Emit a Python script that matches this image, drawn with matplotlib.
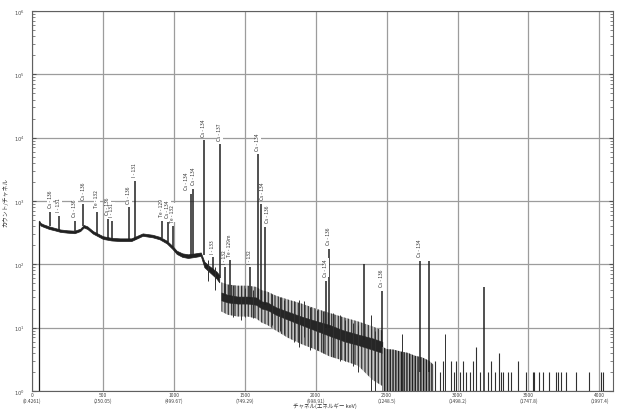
import numpy as np
import matplotlib
matplotlib.use("Agg")
import matplotlib.pyplot as plt
import matplotlib.ticker as ticker

plt.rcParams['font.family'] = ['Noto Sans CJK JP', 'DejaVu Sans']

# continuum envelope below the Cs-137 edge (channel, low / high counts)
cont_ch = [50, 60, 80, 120, 160, 200, 250, 300, 340, 365, 390, 430, 500, 560, 620, 700,
           780, 850, 900, 950, 990, 1020, 1060, 1100, 1150, 1190, 1215, 1250, 1300, 1320]
cont_lo = [450, 410, 392, 362, 344, 325, 316, 310, 335, 382, 362, 305, 252, 238, 233, 233,
           282, 267, 248, 214, 175, 146, 131, 126, 131, 136, 90, 76, 60, 52]
cont_hi = [490, 450, 428, 398, 376, 355, 345, 340, 365, 418, 398, 335, 278, 262, 257, 257,
           308, 293, 272, 236, 195, 164, 149, 144, 149, 154, 110, 94, 77, 68]

# noisy part above the Cs-137 edge: dark core and lighter outer spread
mid_ch = [1335, 1380, 1450, 1520, 1580, 1620, 1660, 1720, 1800, 1900, 2000, 2100, 2200,
          2300, 2400, 2470]
mid_core_lo = [27, 25, 24, 24, 23, 20, 19, 16, 13.5, 11, 9, 7.4, 6.1, 5.3, 4.5, 4]
mid_core_hi = [36, 33, 31, 31, 30, 26, 25, 21, 18, 15, 12.8, 11, 9, 7.8, 6.8, 6]
mid_out_lo = [18, 16, 15, 15, 14, 12, 11, 9, 7, 5.5, 4.5, 3.5, 3, 2.5, 1.5, 1.2]
mid_out_hi = [52, 48, 46, 46, 44, 39, 37, 32, 28, 24, 20, 17, 14.5, 12.5, 10.5, 9]

# dense low-count region (drawn from the floor up)
dense_ch = [2470, 2500, 2550, 2600, 2650, 2700, 2750, 2800, 2830]
dense_hi = [5, 4.6, 4.5, 4.2, 4, 3.6, 3.4, 3, 2.6]

# noise spikes in the falling part of the spectrum
spike_ch = [1240, 1290, 1420, 1470, 1500, 1560, 1690, 1750, 1780, 1850, 1880, 1920, 1960,
            2010, 2050, 2120, 2170, 2210, 2260, 2300, 2390, 2420, 2610, 2910]
spike_lo = [55, 40, 15, 13, 15, 14, 11, 9, 8, 6, 5, 7, 4.5, 4.5, 4, 3.5, 3, 3, 2.5, 2,
            1, 1, 1, 1]
spike_hi = [115, 90, 48, 45, 42, 40, 34, 31, 27, 26, 27, 26, 21, 19, 18, 17, 16, 13, 12,
            11, 16, 9, 8, 8]

# sparse single counts at the high end
tail_ch = [2838, 2873, 2901, 2955, 2972, 2991, 3014, 3038, 3061, 3085, 3108, 3131, 3155,
           3213, 3237, 3261, 3289, 3307, 3324, 3354, 3378, 3425, 3484, 3531, 3542, 3577,
           3601, 3648, 3695, 3707, 3730, 3765, 3836, 3930, 4012, 4028]
tail_cnt = [3, 2, 3, 3, 2, 3, 2, 3, 2, 2, 3, 5, 2, 2, 3, 2, 4, 2, 2, 2, 2, 3, 2, 2, 2, 2,
            2, 2, 2, 2, 2, 2, 2, 2, 2, 2]

# identified peaks
peak_ch = [127, 190, 303, 360, 458, 535, 563, 683, 725, 915, 958, 993, 1120, 1137, 1211,
           1275, 1324, 1359, 1394, 1535, 1592, 1613, 1641, 2070, 2092, 2338, 2465, 2732,
           2796, 3190]
peak_cnt = [670, 580, 490, 900, 670, 520, 490, 800, 2080, 490, 470, 400, 1300, 1550, 9100,
            130, 7900, 90, 115, 90, 5500, 900, 390, 55, 175, 100, 38, 113, 113, 44]
peak_base = [400, 350, 330, 400, 300, 255, 250, 245, 245, 260, 225, 185, 137, 140, 140,
             75, 60, 32, 30, 28, 27, 24, 23, 10, 10, 6.5, 5, 2, 2, 1]
peak_lab = ["Cs - 136", "I - 131", "Cs - 136", "Cs - 136", "Te - 132", "Cs - 136", "I - 131",
            "Cs - 136", "I - 131", "Te - 129", "Cs - 134", "Te - 132", "Cs - 134", "Cs - 134",
            "Cs - 134", "I - 133", "Cs - 137", "I - 132", "Te - 129m", "I - 132", "Cs - 134",
            "Cs - 134", "Cs - 136", "Cs - 134", "Cs - 136", "", "Cs - 136", "Cs - 134", "", ""]

xticks = [0, 500, 1000, 1500, 2000, 2500, 3000, 3500, 4000]
xtick_kev = ["0.4261", "250.05", "499.67", "749.29", "998.91", "1248.5", "1498.2",
             "1747.8", "1997.4"]
yticks = [1, 10, 100, 1e3, 1e4, 1e5, 1e6]

fig = plt.figure(figsize=(6.19, 4.14), dpi=100)
ax = fig.add_axes([32/619, 22/414, 581/619, 380/414])
ax.set_yscale('log')
ax.set_xlim(0, 4096)
ax.set_ylim(1, 1e6)

line_c = '#202020'
ax.vlines(cont_ch[0], 1, cont_hi[0], color=line_c, lw=0.9)
ax.fill_between(cont_ch, cont_lo, cont_hi, color=line_c, lw=0.5, zorder=3)
ax.fill_between(mid_ch, mid_out_lo, mid_out_hi, facecolor='#c4c4c4', edgecolor='#404040',
                hatch='|||||', lw=0, zorder=3)
ax.fill_between(mid_ch, mid_core_lo, mid_core_hi, color='#262626', lw=0.4, zorder=3)
ax.fill_between(dense_ch, 1, dense_hi, facecolor='#b0b0b0', edgecolor=line_c,
                hatch='||||||', lw=0, zorder=3)
ax.vlines(spike_ch, spike_lo, spike_hi, color='#303030', lw=0.7, zorder=3)
ax.vlines(tail_ch, 1, tail_cnt, color='#303030', lw=0.8, zorder=3)
ax.vlines(peak_ch, peak_base, peak_cnt, color=line_c, lw=1.1, zorder=3)

# small nudges so neighbouring labels don't sit on top of each other
nudge = {1120: -28, 1613: 14, 1641: 22}
for c, h, t in zip(peak_ch, peak_cnt, peak_lab):
    if not t:
        continue
    ax.text(c + nudge.get(c, 0), h * 1.18, t, rotation=90, ha='center', va='bottom',
            fontsize=3.5, color='#303030', zorder=4,
            bbox=dict(fc='white', ec='none', pad=0.4))

ax.grid(True, which='major', color='#9c9c9c', lw=0.9)
ax.set_axisbelow(True)
for s in ax.spines.values():
    s.set_color('#606060')
    s.set_linewidth(0.8)

ax.set_xticks(xticks)
ax.set_xticklabels([f"{t}\n({k})" for t, k in zip(xticks, xtick_kev)], fontsize=3.5,
                   linespacing=1.0)
ax.tick_params(axis='x', length=0, pad=1, colors='#404040')
ax.yaxis.set_major_locator(ticker.FixedLocator(yticks))
ax.yaxis.set_minor_locator(ticker.LogLocator(base=10, subs=np.arange(2, 10), numticks=20))
ax.yaxis.set_major_formatter(ticker.FuncFormatter(lambda v, p: f"$10^{{{int(round(np.log10(v)))}}}$"))
ax.yaxis.set_minor_formatter(ticker.NullFormatter())
ax.tick_params(axis='y', which='major', direction='in', length=3, right=True,
               labelsize=3.8, pad=5, colors='#505050')
ax.tick_params(axis='y', which='minor', direction='in', length=2, right=True,
               colors='#707070')

ax.set_ylabel('カウント/チャネル', fontsize=4.2, labelpad=4, color='#303030')
fig.text(0.525, 0.018, 'チャネル(エネルギー keV)', fontsize=4.0, ha='center', va='center',
         color='#303030')

fig.savefig('out.png', dpi=100, facecolor='white')
